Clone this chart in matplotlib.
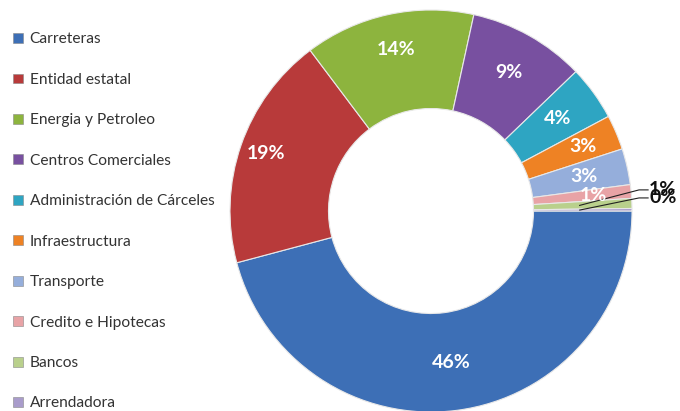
import numpy as np
import matplotlib
matplotlib.use("Agg")
import matplotlib.pyplot as plt
from matplotlib.patches import Patch

categories = ["Carreteras", "Entidad estatal", "Energia y Petroleo", "Centros Comerciales",
              "Administración de Cárceles", "Infraestructura", "Transporte",
              "Credito e Hipotecas", "Bancos", "Arrendadora"]
values = [45.9, 18.9, 13.7, 9.4, 4.4, 2.8, 2.9, 1.1, 0.8, 0.2]
colors = ["#3D6FB6", "#B83A3A", "#8DB43E", "#7850A0", "#2EA5C2", "#EE8224",
          "#95AEDB", "#E8A3A6", "#B9D08C", "#A99CCB"]

fig = plt.figure(figsize=(6.8, 4.11), dpi=100)
cx, cy, r = 431 / 680, (411 - 211) / 411, 201
ax = fig.add_axes([cx - r / 680, cy - r / 411, 2 * r / 680, 2 * r / 411])

total = sum(values)
outside = {8, 9}

wedges, _ = ax.pie(values, colors=colors, startangle=0, counterclock=False,
                   radius=1.0, wedgeprops=dict(width=0.49, edgecolor="#e8e8e8", linewidth=0.8))
ax.set_xlim(-1, 1)
ax.set_ylim(-1, 1)
ax.axis("off")

pct_r = [0.76, 0.87, 0.82, 0.79, 0.78, 0.82, 0.78, 0.81]
for i, w in enumerate(wedges):
    pct = round(values[i] / total * 100)
    ang = np.deg2rad((w.theta1 + w.theta2) / 2)
    if i not in outside:
        rr = pct_r[i]
        ax.text(rr * np.cos(ang), rr * np.sin(ang), f"{pct}%", ha="center", va="center",
                color="white", fontsize=14, fontweight="bold", family="Lato")

# outside labels with leader lines
lab_pos = {8: (1.085, 0.105), 9: (1.085, 0.065)}
for i in outside:
    w = wedges[i]
    pct = round(values[i] / total * 100)
    ang = np.deg2rad((w.theta1 + w.theta2) / 2)
    tx, ty = lab_pos[i]
    px, py = 0.74 * np.cos(ang), 0.74 * np.sin(ang)
    ax.plot([tx - 0.005, tx - 0.05, px], [ty, ty, py], color="#222222", lw=0.8, clip_on=False)
    ax.text(tx, ty, f"{pct}%", ha="left", va="center", color="#111111",
            fontsize=14, fontweight="bold", family="Lato", clip_on=False)

handles = [Patch(facecolor=c, edgecolor="#888888", linewidth=0.4) for c in colors]
fig.legend(handles, categories, loc="upper left", bbox_to_anchor=(-0.001, 0.955),
           frameon=False, prop=dict(family="Lato", size=11.2),
           handlelength=0.6, handleheight=0.6, handletextpad=0.45,
           labelspacing=1.7, labelcolor="#333333")

fig.savefig("out.png", dpi=100)
